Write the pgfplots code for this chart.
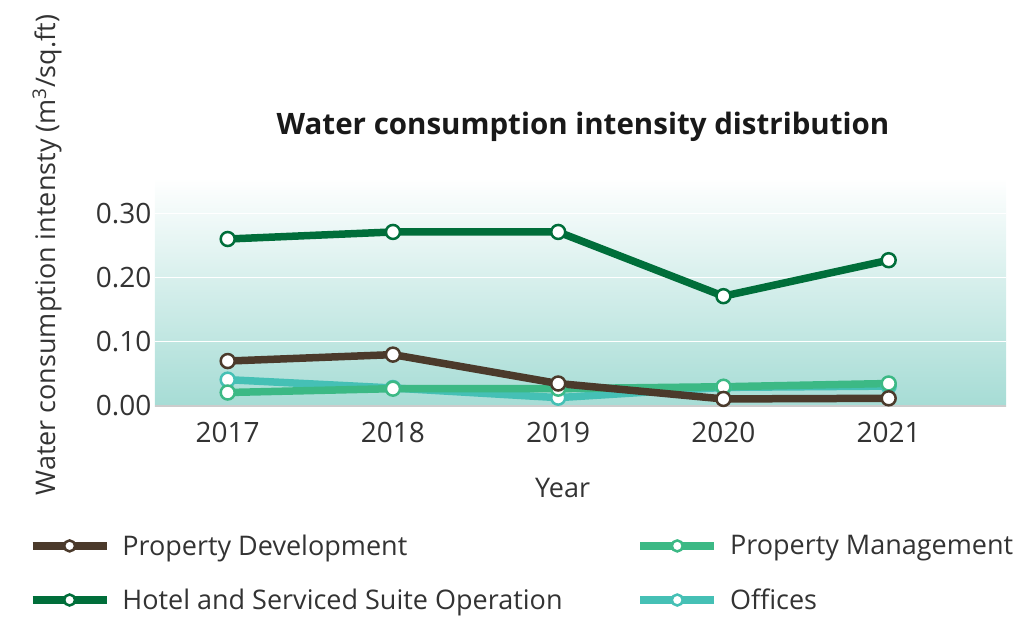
\documentclass[border=0pt]{standalone}
\usepackage{fontspec}
\setmainfont{Open Sans}
\usepackage{pgfplots}
\pgfplotsset{compat=1.18}

\definecolor{pdev}{RGB}{75,58,43}
\definecolor{pman}{RGB}{60,185,133}
\definecolor{hotel}{RGB}{0,110,58}
\definecolor{offic}{RGB}{69,192,181}
\definecolor{bgmid}{RGB}{222,240,237}
\definecolor{bgbot}{RGB}{166,220,213}
\definecolor{txt}{RGB}{51,51,51}

\pgfplotsset{
  series/.style={color=#1, line width=7.5pt, mark=*,
    mark size=7pt, mark options={fill=white, draw=#1, line width=2.5pt, solid}},
}

\begin{document}
\begin{tikzpicture}
\begin{axis}[
    name=ax,
    scale only axis,
    width=851pt, height=228pt,
    xmin=2016.56, xmax=2021.71,
    ymin=0, ymax=0.355,
    xtick={2017,2018,2019,2020,2021},
    xticklabels={2017,2018,2019,2020,2021},
    xticklabel style={yshift=-13pt},
    ytick={0,0.1,0.2,0.3},
    yticklabel style={/pgf/number format/fixed, /pgf/number format/fixed zerofill,
      /pgf/number format/precision=2},
    /pgf/number format/assume math mode=true,
    every tick label/.append style={font=\fontsize{28}{32}\selectfont, text=txt},
    major tick length=0pt,
    axis x line*=bottom, axis y line*=left,
    x axis line style={draw=black!20, line width=1.5pt},
    y axis line style={draw=none},
    ymajorgrids,
    major grid style={white, line width=1.3pt},
    axis background/.style={shade, top color=white, middle color=bgmid, bottom color=bgbot},
    title={\bfseries Water consumption intensity distribution},
    title style={at={(axis description cs:0.503,1.20)}, anchor=center,
      font=\fontsize{29.5}{34}\selectfont, text=black!90},
    xlabel={Year},
    xlabel style={at={(axis description cs:0.479,-0.36)}, anchor=center,
      font=\fontsize{27}{32}\selectfont, text=txt},
    ylabel={Water consumption intensty (m\textsuperscript{3}/sq.ft)},
    ylabel style={at={(axis description cs:-0.127,0.662)}, anchor=center, rotate=0,
      font=\fontsize{27}{32}\selectfont, text=txt},
    legend columns=2,
    legend cell align=left,
    legend style={at={(axis description cs:-0.152,-0.547)}, anchor=north west,
      draw=none, fill=none, font=\fontsize{27}{32}\selectfont, text=txt,
      row sep=28pt,
      /tikz/every odd column/.append style={column sep=10pt},
      /tikz/every even column/.append style={column sep=72pt}},
    legend image code/.code={
      \draw[#1, mark size=5.5pt, mark repeat=2, mark phase=2]
        plot coordinates {(0pt,0pt) (37pt,0pt) (74pt,0pt)};
    },
]
\addlegendimage{series=pdev}
\addlegendentry{Property Development}
\addlegendimage{series=pman}
\addlegendentry{Property Management}
\addlegendimage{series=hotel}
\addlegendentry{Hotel and Serviced Suite Operation}
\addlegendimage{series=offic}
\addlegendentry{Offices}

% Offices
\addplot[series=offic, forget plot] coordinates {
  (2017,0.041) (2018,0.028) (2019,0.013) (2020,0.029) (2021,0.031)};
% Property Management
\addplot[series=pman, forget plot] coordinates {
  (2017,0.021) (2018,0.027) (2019,0.027) (2020,0.030) (2021,0.035)};
% Property Development
\addplot[series=pdev, forget plot] coordinates {
  (2017,0.070) (2018,0.080) (2019,0.035) (2020,0.011) (2021,0.012)};
% Hotel and Serviced Suite Operation
\addplot[series=hotel, forget plot] coordinates {
  (2017,0.260) (2018,0.271) (2019,0.271) (2020,0.171) (2021,0.227)};
\end{axis}
\pgfresetboundingbox
\path[use as bounding box] ([shift={(-155pt,-210pt)}]ax.south west)
  rectangle ([shift={(875pt,406pt)}]ax.south west);
\end{tikzpicture}
\end{document}
